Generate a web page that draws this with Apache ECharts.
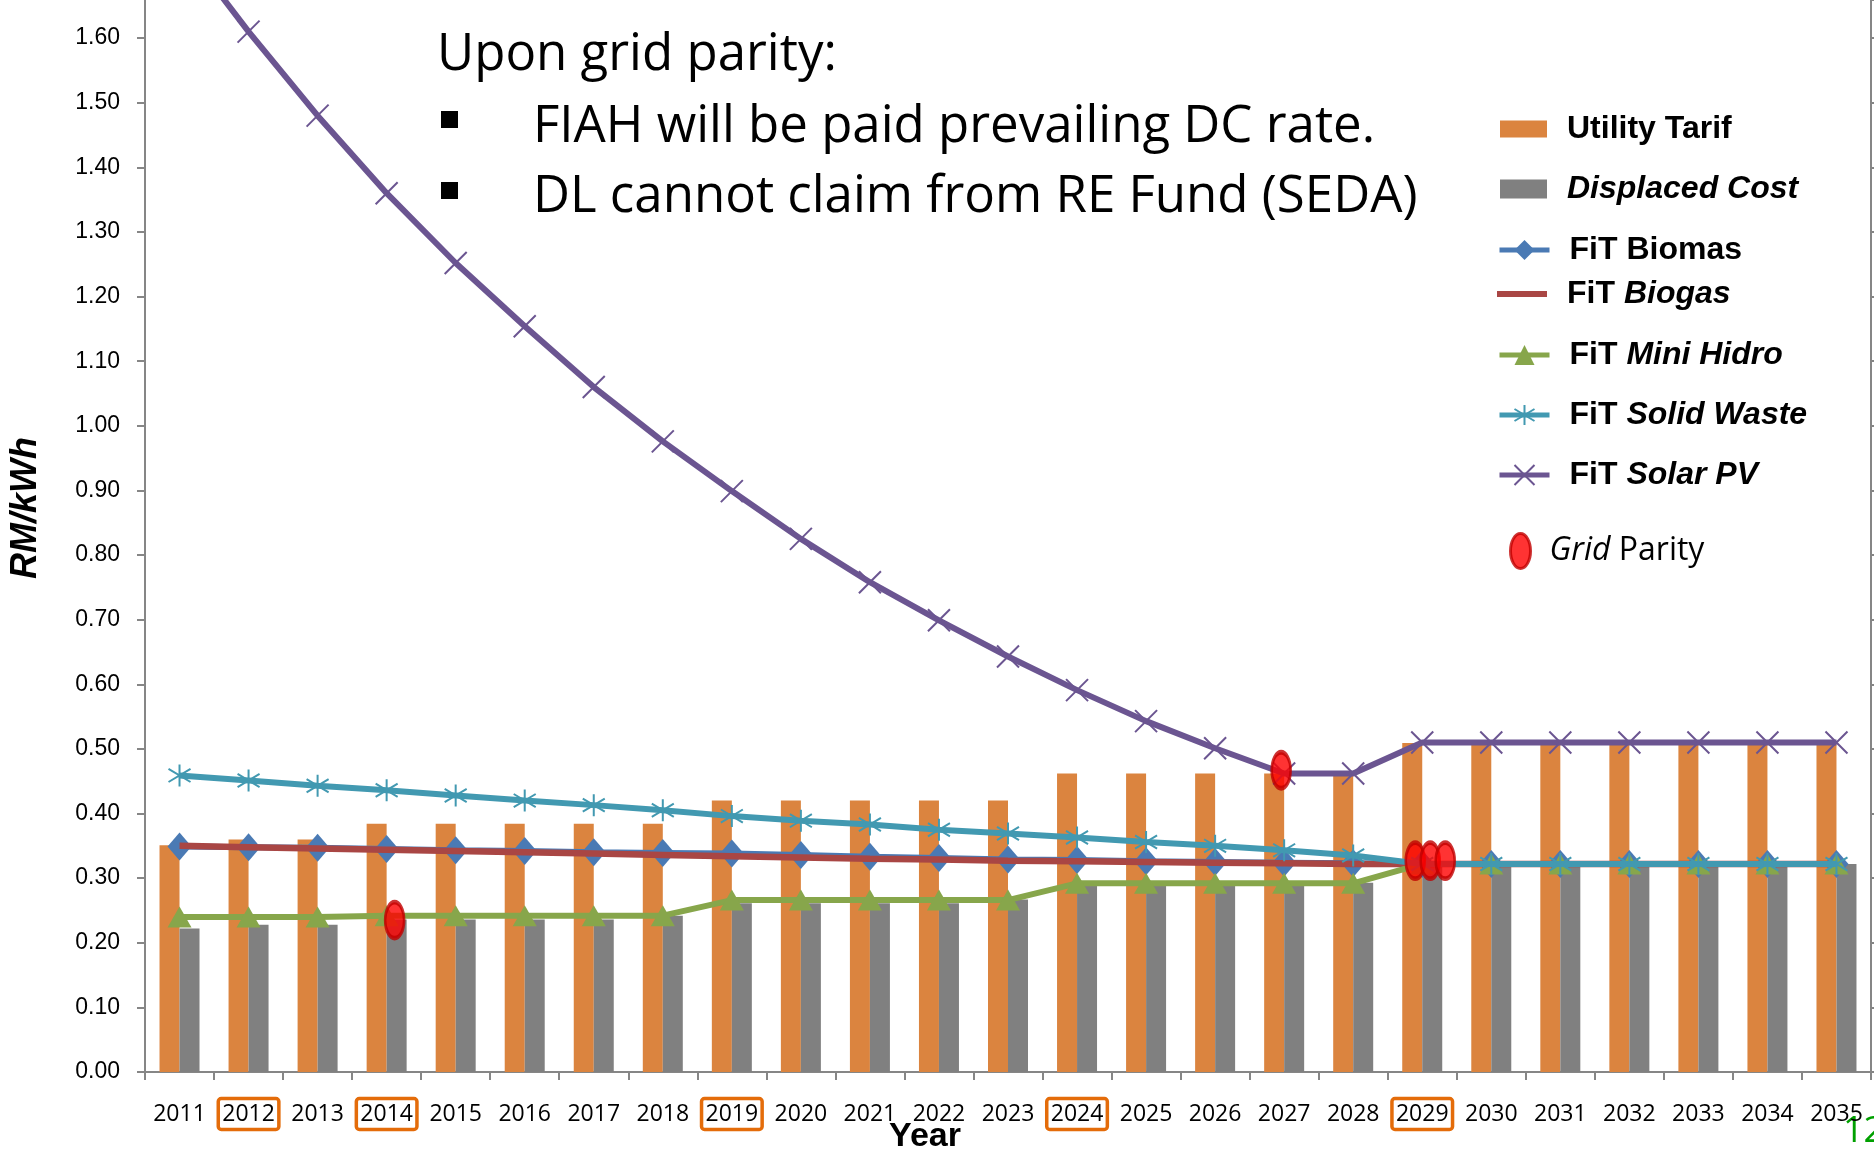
<!DOCTYPE html>
<html>
<head>
<meta charset="utf-8">
<script src="https://cdn.jsdelivr.net/npm/echarts@6/dist/echarts.min.js"></script>
<style>
html,body{margin:0;padding:0;background:#ffffff;}
#chart{width:1874px;height:1152px;}
</style>
</head>
<body>
<div id="chart"></div>
<script>
// ---------- data ----------
const years = ['2011','2012','2013','2014','2015','2016','2017','2018','2019','2020','2021','2022','2023','2024','2025','2026','2027','2028','2029','2030','2031','2032','2033','2034','2035'];
const highlightYears = ['2012','2014','2019','2024','2029'];
const yTickLabels = ['0.00','0.10','0.20','0.30','0.40','0.50','0.60','0.70','0.80','0.90','1.00','1.10','1.20','1.30','1.40','1.50','1.60'];

const utilityTarif  = [0.351,0.360,0.360,0.384,0.384,0.384,0.384,0.384,0.420,0.420,0.420,0.420,0.420,0.462,0.462,0.462,0.462,0.462,0.509,0.509,0.509,0.509,0.509,0.509,0.509];
const displacedCost = [0.222,0.228,0.228,0.236,0.236,0.236,0.236,0.242,0.261,0.261,0.261,0.261,0.267,0.288,0.288,0.288,0.288,0.293,0.322,0.322,0.322,0.322,0.322,0.322,0.322];
const fitBiomas     = [0.349,0.348,0.347,0.345,0.343,0.342,0.340,0.339,0.338,0.336,0.333,0.331,0.329,0.328,0.326,0.325,0.324,0.323,0.322,0.322,0.322,0.322,0.322,0.322,0.322];
const fitBiogas     = [0.350,0.348,0.346,0.344,0.342,0.340,0.338,0.336,0.334,0.332,0.330,0.329,0.327,0.326,0.325,0.324,0.323,0.322,0.322,0.322,0.322,0.322,0.322,0.322,0.322];
const fitMiniHidro  = [0.240,0.240,0.240,0.242,0.242,0.242,0.242,0.242,0.266,0.266,0.266,0.266,0.266,0.292,0.292,0.292,0.292,0.292,0.322,0.322,0.322,0.322,0.322,0.322,0.322];
const fitSolidWaste = [0.459,0.451,0.443,0.436,0.428,0.420,0.413,0.405,0.396,0.389,0.383,0.375,0.369,0.363,0.356,0.350,0.343,0.335,0.322,0.322,0.322,0.322,0.322,0.322,0.322];
const fitSolarPV    = [1.750,1.610,1.480,1.360,1.252,1.154,1.060,0.976,0.899,0.825,0.758,0.699,0.643,0.591,0.543,0.501,0.462,0.462,0.510,0.510,0.510,0.510,0.510,0.510,0.510];

const parityYears  = ['2014','2027','2029','2029','2029'];
const parityValues = [0.235,0.467,0.327,0.327,0.327];

// ---------- style ----------
const parityShift = [8,-3,-7,8,23];
const C = {
  orange:'#DB843F', gray:'#808080', blue:'#4A7AB4', red:'#A94644',
  green:'#87A64B', teal:'#4299B1', purple:'#6B5591', axis:'#868686'
};
const ellipsePath = 'path://M10,0 C15.52,0 20,7.84 20,17.5 C20,27.16 15.52,35 10,35 C4.48,35 0,27.16 0,17.5 C0,7.84 4.48,0 10,0 Z';
const xPath = 'path://M0,0L20,20M20,0L0,20';
const starPath = 'path://M10,0L10,20M1.5,4L18.5,16M1.5,16L18.5,4';

const chart = echarts.init(document.getElementById('chart'), null, {renderer:'canvas'});

const legendRich = {
  p:{width:15},
  b:{fontFamily:'Liberation Sans', fontWeight:'bold', fontSize:32, lineHeight:30, color:'#000'},
  bi:{fontFamily:'Liberation Sans', fontWeight:'bold', fontStyle:'italic', fontSize:32, lineHeight:30, color:'#000'},
  gi:{fontFamily:'Open Sans', fontStyle:'italic', fontSize:32, lineHeight:30, color:'#000'},
  g:{fontFamily:'Open Sans', fontSize:32, lineHeight:30, color:'#000'}
};
function legendFmt(name){
  if (name === 'Utility Tarif') return '{p| }{b|Utility Tarif}';
  if (name === 'Displaced Cost') return '{p| }{bi|Displaced Cost}';
  if (name === 'FiT Biomas') return '{p| }{b|FiT Biomas}';
  if (name === 'Grid Parity') return '{p| }{gi|Grid}{g| Parity}';
  return '{p| }{b|FiT }{bi|' + name.slice(4) + '}';
}
function mkLegend(name, left, top, w, h, extra){
  return Object.assign({
    orient:'vertical', left:left, top:top, padding:0, itemGap:0,
    itemWidth:w, itemHeight:h, selectedMode:false,
    formatter:legendFmt, textStyle:{rich:legendRich},
    lineStyle:{width:5},
    data:[name]
  }, extra || {});
}

const option = {
  animation:false,
  backgroundColor:'#ffffff',
  grid:{left:145, right:3, top:0, bottom:80, containLabel:false},
  legend:[
    mkLegend('Utility Tarif', 1500, 113, 47, 17, {data:[{name:'Utility Tarif', icon:'rect'}]}),
    mkLegend('Displaced Cost', 1500, 173, 47, 19, {data:[{name:'Displaced Cost', icon:'rect'}]}),
    mkLegend('FiT Biomas', 1497, 234, 50, 25),
    mkLegend('FiT Biogas', 1497, 278, 50, 25, {data:[{name:'FiT Biogas', icon:'path://M0,0H50V6H0Z'}]}),
    mkLegend('FiT Mini Hidro', 1497, 339, 50, 25),
    mkLegend('FiT Solid Waste', 1497, 399, 50, 25),
    mkLegend('FiT Solar PV', 1497, 459, 50, 25),
    mkLegend('Grid Parity', 1509, 532, 20, 35, {itemStyle:{borderColor:'#C00000', borderWidth:3},
      data:[{name:'Grid Parity', icon:ellipsePath}], textStyle:{rich:Object.assign({}, legendRich, {p:{width:14}})}})
  ],
  xAxis:{
    type:'category', data:years, boundaryGap:true,
    axisLine:{show:true, lineStyle:{color:C.axis, width:2}},
    axisTick:{show:true, length:8, lineStyle:{color:C.axis, width:2}},
    axisLabel:{
      interval:0, margin:30,
      formatter:function(v){ return highlightYears.indexOf(v) >= 0 ? '{h|' + v + '}' : '{n|' + v + '}'; },
      rich:{
        h:{fontFamily:'Open Sans', fontSize:23, lineHeight:24, color:'#000', padding:[4,4,4,4], borderColor:'#E46C0A', borderWidth:3.5, borderRadius:3},
        n:{fontFamily:'Open Sans', fontSize:23, lineHeight:24, color:'#000', padding:[4,4,4,4]}
      }
    },
    splitLine:{show:false}
  },
  yAxis:[
    {
      type:'value', min:0, max:1.659, interval:0.1, position:'left',
      axisLine:{show:true, lineStyle:{color:C.axis, width:2}},
      axisTick:{show:true, length:8, lineStyle:{color:C.axis, width:2}},
      axisLabel:{margin:25, fontFamily:'Liberation Sans', fontSize:23, color:'#000', showMaxLabel:false,
        formatter:function(v){ const i = Math.round(v*10); return Math.abs(v*10 - i) < 1e-6 && yTickLabels[i] ? yTickLabels[i] : ''; }},
      splitLine:{show:false}
    },
    {
      type:'value', min:0, max:1.659, interval:0.1, position:'right',
      axisLine:{show:true, lineStyle:{color:C.axis, width:2}},
      axisTick:{show:true, length:6, lineStyle:{color:C.axis, width:2}},
      axisLabel:{show:false}, splitLine:{show:false}
    }
  ],
  series:[
    {name:'Utility Tarif', type:'bar', data:utilityTarif, barWidth:20, barGap:'0%', itemStyle:{color:C.orange}, z:2},
    {name:'Displaced Cost', type:'bar', data:displacedCost, barWidth:20, barGap:'0%', itemStyle:{color:C.gray}, z:2},
    {name:'FiT Biomas', type:'line', data:fitBiomas, z:3, showAllSymbol:true,
      symbol:'diamond', symbolSize:[24,28], lineStyle:{color:C.blue, width:6}, itemStyle:{color:C.blue}},
    {name:'FiT Biogas', type:'line', data:fitBiogas, z:4, symbol:'none',
      lineStyle:{color:C.red, width:6.5}, itemStyle:{color:C.red}},
    {name:'FiT Mini Hidro', type:'line', data:fitMiniHidro, z:5, showAllSymbol:true,
      symbol:'triangle', symbolSize:[24,21], lineStyle:{color:C.green, width:6}, itemStyle:{color:C.green}},
    {name:'FiT Solid Waste', type:'line', data:fitSolidWaste, z:6, showAllSymbol:true,
      symbol:starPath, symbolSize:[22,22], lineStyle:{color:C.teal, width:6},
      itemStyle:{color:C.teal, borderColor:C.teal, borderWidth:2}},
    {name:'FiT Solar PV', type:'line', data:fitSolarPV, z:7, showAllSymbol:true,
      symbol:xPath, symbolSize:[22,22], lineStyle:{color:C.purple, width:6},
      itemStyle:{color:C.purple, borderColor:C.purple, borderWidth:2}},
    {name:'Grid Parity', type:'scatter', z:10, symbol:ellipsePath, symbolSize:[19,36],
      itemStyle:{color:'#FF0000', borderColor:'#C00000', borderWidth:3.5},
      data:parityYears.map(function(y,i){ return {value:[y, parityValues[i]], symbolOffset:[parityShift[i],0]}; })}
  ],
  graphic:[
    {type:'text', x:26, y:508, rotation:Math.PI/2,
      style:{text:'RM/kWh', font:'italic bold 36px "Liberation Sans"', fill:'#000', textAlign:'center', textVerticalAlign:'middle'}},
    {type:'text', x:925, y:1137,
      style:{text:'Year', font:'bold 34px "Liberation Sans"', fill:'#000', textAlign:'center', textVerticalAlign:'middle'}},
    {type:'text', x:437, y:55,
      style:{text:'Upon grid parity:', font:'51px "Open Sans"', fill:'#000', textAlign:'left', textVerticalAlign:'middle'}},
    {type:'rect', shape:{x:441, y:111, width:17, height:17}, style:{fill:'#000'}},
    {type:'text', x:533, y:127,
      style:{text:'FIAH will be paid prevailing DC rate.', font:'51px "Open Sans"', fill:'#000', textAlign:'left', textVerticalAlign:'middle'}},
    {type:'rect', shape:{x:441, y:182, width:17, height:17}, style:{fill:'#000'}},
    {type:'text', x:533, y:197,
      style:{text:'DL cannot claim from RE Fund (SEDA)', font:'51px "Open Sans"', fill:'#000', textAlign:'left', textVerticalAlign:'middle'}},
    {type:'text', x:1843, y:1132,
      style:{text:'12', font:'36px "Open Sans"', fill:'#00A000', textAlign:'left', textVerticalAlign:'middle'}}
  ]
};
chart.setOption(option);
</script>
</body>
</html>
